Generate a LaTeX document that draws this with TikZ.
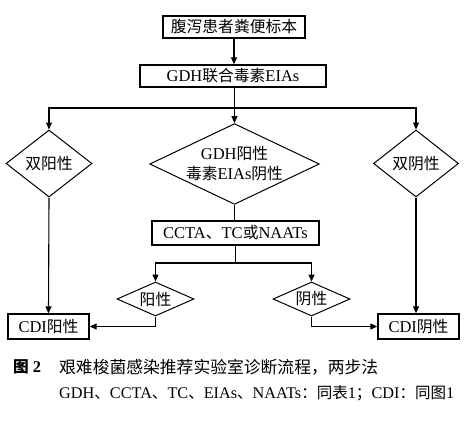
\documentclass[tikz,border=0pt]{standalone}
\usepackage{fontspec}
\usepackage{graphicx}
\setmainfont{Liberation Serif}
\newfontfamily\zhfont[Scale=0.955]{Noto Sans CJK SC}
\newcommand\zh[1]{{\zhfont #1}}
\usetikzlibrary{shapes.geometric,arrows.meta}
\begin{document}
\begin{tikzpicture}[x=1pt,y=-1pt,
  every node/.style={font=\fontsize{16.5}{18}\selectfont},
  boxnode/.style={draw, line width=1.3pt, inner sep=0pt, minimum height=#1},
  boxnode/.default=22pt,
  dia/.style={draw, shape=diamond, line width=1pt, inner sep=0pt},
  conn/.style={line width=1.1pt},
  arr/.style={conn, -{Triangle[length=7pt,width=6pt]}},
  captxt/.style={anchor=west, inner sep=0pt}
]
\useasboundingbox (0,0) rectangle (472,432);

\node[boxnode, minimum width=142pt] (b1) at (234,27) {\zh{腹泻患者粪便标本}};
\node[boxnode, minimum width=186pt] (b2) at (233,76) {GDH\zh{联合毒素}EIAs};

\node[dia, minimum width=86pt, minimum height=67pt, aspect=1.3] (dL) at (49,163.5) {\zh{双阳性}};
\node[dia, minimum width=169pt, minimum height=80pt, aspect=2.1, align=center, font=\fontsize{16.5}{20}\selectfont] (dC) at (234.5,164) {GDH\zh{阳性}\\\zh{毒素}EIAs\zh{阴性}};
\node[dia, minimum width=85pt, minimum height=67pt, aspect=1.3] (dR) at (416,163.5) {\zh{双阴性}};

\node[boxnode=24pt, minimum width=167pt] (b3) at (235.5,233) {CCTA\zh{、}TC\zh{或}NAATs};

\node[dia, minimum width=77pt, minimum height=34pt, aspect=2.3] (sL) at (155.5,299) {\zh{阳性}};
\node[dia, minimum width=77pt, minimum height=34pt, aspect=2.3] (sR) at (311.5,299) {\zh{阴性}};

\node[boxnode=25pt, minimum width=81pt] (oL) at (48.5,326.5) {CDI\zh{阳性}};
\node[boxnode=25pt, minimum width=81pt] (oR) at (418.5,326.5) {CDI\zh{阴性}};

\coordinate (j1) at (234.5,108);
\coordinate (j2) at (235.5,263);

\draw[arr] (b1) -- (b1 |- b2.north);
\draw[conn] (j1 |- b2.south) -- (j1);
\draw[arr] (j1) -- (dC.north);
\draw[arr] (j1) -| (dL.north);
\draw[arr] (j1) -| (dR.north);
\draw[conn] (dC.south) -- (b3.north -| dC.south);
\draw[conn] (b3.south) -- (j2);
\draw[arr] (j2) -| (sL.north);
\draw[arr] (j2) -| (sR.north);
\draw[arr] (sL.south) |- (oL.east);
\draw[arr] (sR.south) |- (oR.west);
\draw[arr] (dL.south) -- (oL.north);
\draw[arr] (dR.south) -- (dR.south |- oR.north);

\node[captxt, font=\fontsize{15.5}{18}\selectfont\bfseries] (c0) at (13,367) {\resizebox{28pt}{!}{\zh{图} 2}};
\node[captxt, font=\fontsize{16}{18}\selectfont] (c1) at (59,367) {\resizebox{319pt}{!}{\zh{艰难梭菌感染推荐实验室诊断流程，两步法}}};
\node[captxt, font=\fontsize{15.6}{18}\selectfont] (c2) at (59,393) {\resizebox{395pt}{!}{GDH\zh{、}CCTA\zh{、}TC\zh{、}EIAs\zh{、}NAATs\zh{：同表}1\zh{；}CDI\zh{：同图}1}};
\end{tikzpicture}
\end{document}
